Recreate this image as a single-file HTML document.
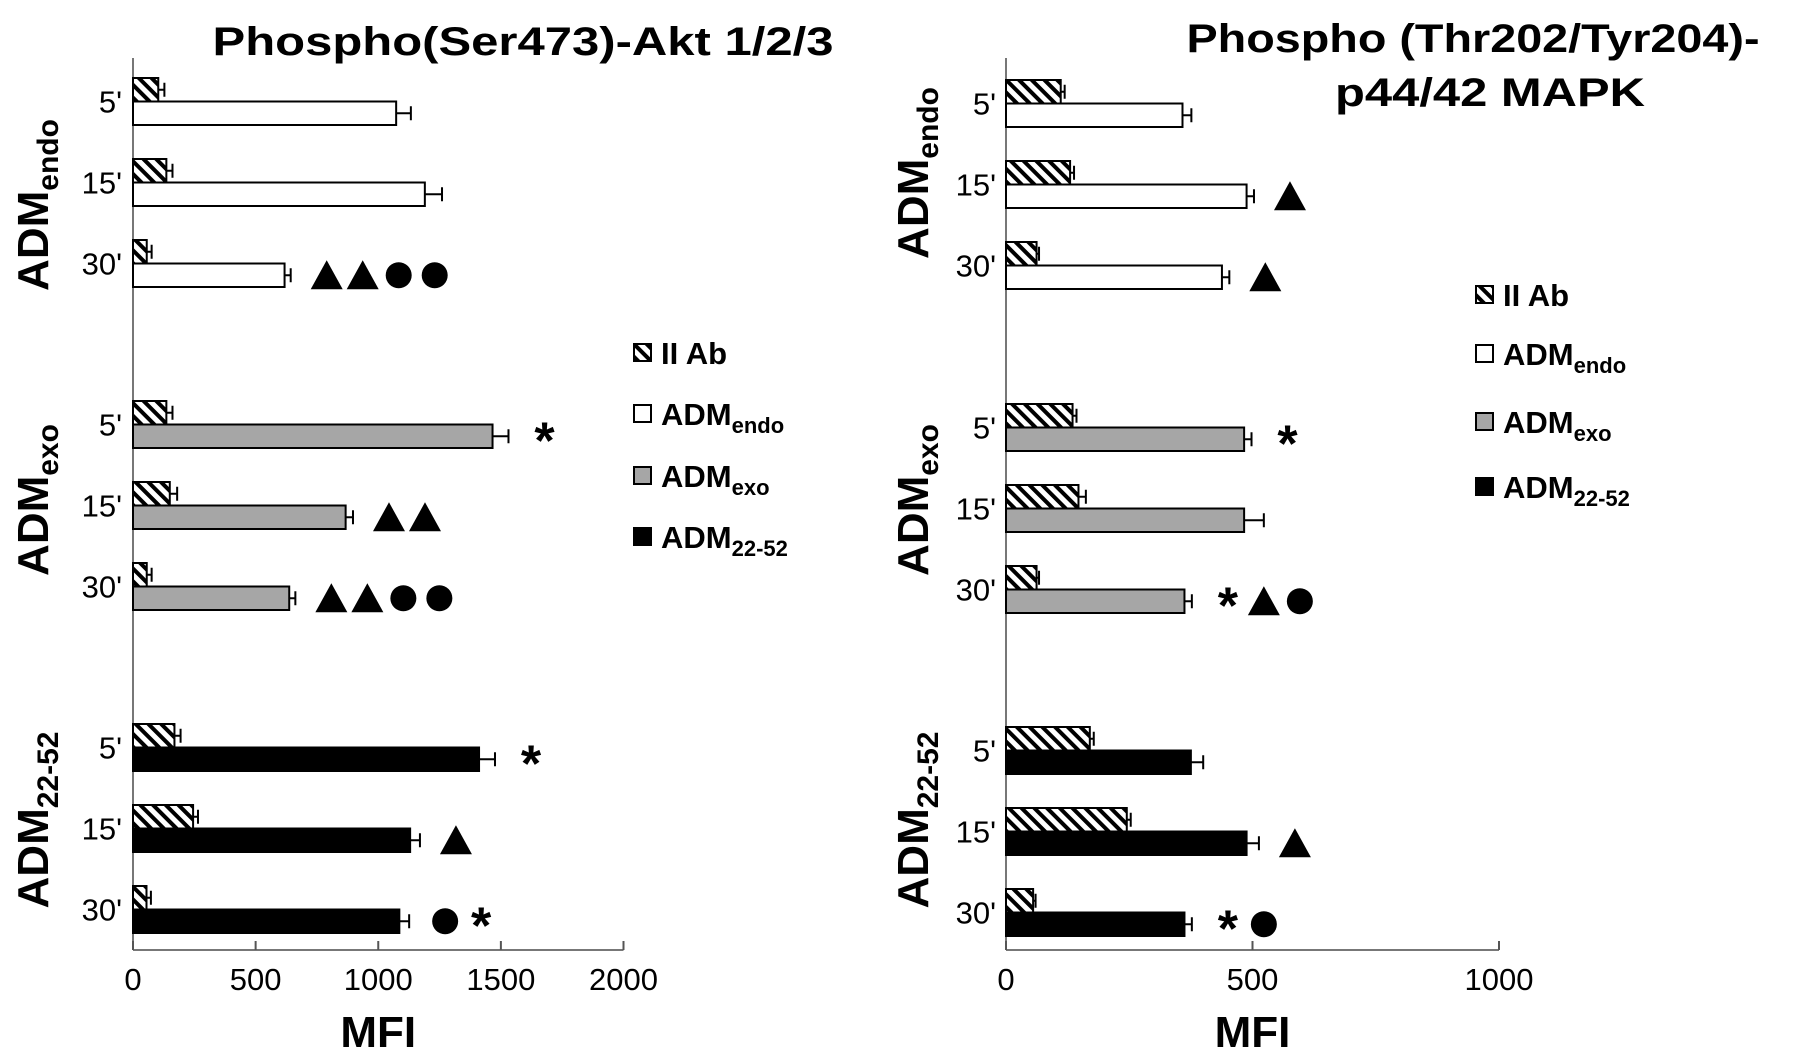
<!DOCTYPE html>
<html><head><meta charset="utf-8">
<style>
html,body{margin:0;padding:0;background:#fff;}
svg{display:block;font-family:"Liberation Sans Narrow","Liberation Sans",sans-serif;}
</style></head>
<body>
<svg id="fig" width="1795" height="1059" viewBox="0 0 1795 1059">
<defs>
<pattern id="hatch" patternUnits="userSpaceOnUse" width="9" height="9" patternTransform="rotate(45)">
<rect width="9" height="9" fill="#fff"/><rect x="0" y="0" width="9" height="4" fill="#000"/>
</pattern>
</defs>
<text x="523" y="55" text-anchor="middle" font-size="40" font-weight="bold" textLength="621" lengthAdjust="spacingAndGlyphs">Phospho(Ser473)-Akt 1/2/3</text>
<text x="1473" y="52" text-anchor="middle" font-size="40" font-weight="bold" textLength="573" lengthAdjust="spacingAndGlyphs">Phospho (Thr202/Tyr204)-</text>
<text x="1490" y="106" text-anchor="middle" font-size="40" font-weight="bold" textLength="310" lengthAdjust="spacingAndGlyphs">p44/42 MAPK</text>
</svg>
<script>
// ---- data ----
const timeLabels = ["5'", "15'", "30'", "5'", "15'", "30'", "5'", "15'", "30'"];
const groupNames = ["endo", "exo", "22-52"];
const groupFills = ["#ffffff", "#a6a6a6", "#000000"];
const aktAb = [103, 136, 56, 136, 150, 56, 169, 245, 55];
const aktAbErr = [25, 25, 20, 25, 30, 20, 25, 20, 18];
const aktVal = [1073, 1190, 618, 1466, 867, 637, 1411, 1130, 1086];
const aktErr = [60, 70, 25, 65, 30, 25, 65, 40, 40];
const aktMarks = ["", "", "TTCC", "*", "TT", "TTCC", "*", "T", "C*"];
const mapkAb = [111, 130, 62, 135, 147, 62, 170, 245, 55];
const mapkAbErr = [8, 8, 5, 8, 15, 5, 8, 8, 5];
const mapkVal = [358, 488, 438, 483, 483, 362, 375, 488, 362];
const mapkErr = [18, 15, 15, 15, 40, 15, 25, 25, 15];
const mapkMarks = ["", "T", "T", "*", "", "*TC", "", "T", "*C"];
const aktTicks = [0, 500, 1000, 1500, 2000];
const mapkTicks = [0, 500, 1000];

const NS = "http://www.w3.org/2000/svg";
const svg = document.getElementById("fig");
function mk(tag, attrs, parent) {
  const e = document.createElementNS(NS, tag);
  for (const k in attrs) e.setAttribute(k, attrs[k]);
  (parent || svg).appendChild(e);
  return e;
}
const BH = 23.5;

function chart(cfg) {
  const g = mk("g", {});
  
  
  const sx = v => cfg.x0 + (v - cfg.min) / (cfg.max - cfg.min) * (cfg.x1 - cfg.x0);
  const ya = mk("line", {x1: cfg.x0, y1: cfg.top, x2: cfg.x0, y2: cfg.bottom, stroke: "#777", "stroke-width": 2}, g);
  
  
  const xa = mk("line", {x1: cfg.x0, y1: cfg.bottom, x2: cfg.x1, y2: cfg.bottom, stroke: "#777", "stroke-width": 2}, g);
  
  
  cfg.ticks.forEach(t => {
    const tl = mk("line", {x1: sx(t), y1: cfg.bottom, x2: sx(t), y2: cfg.bottom - 9, stroke: "#555", "stroke-width": 2}, g);
    
    
    const tx = mk("text", {x: sx(t), y: 990, "text-anchor": "middle", "font-size": 31}, g);
    tx.textContent = t;
    
    
  });
  const xt = mk("text", {x: (cfg.x0 + cfg.x1) / 2, y: 1047, "text-anchor": "middle", "font-size": 44, "font-weight": "bold"}, g);
  xt.textContent = "MFI";
  
  
  for (let i = 0; i < cfg.val.length; i++) {
    const y = cfg.rows[i];
    const gi = Math.floor(i / 3);
    const hb = mk("rect", {x: sx(0), y: y, width: sx(cfg.ab[i]) - sx(0), height: BH, fill: "url(#hatch)", stroke: "#000", "stroke-width": 2}, g);
    
    
    const mb = mk("rect", {x: sx(0), y: y + BH, width: sx(cfg.val[i]) - sx(0), height: BH, fill: groupFills[gi], stroke: "#000", "stroke-width": 2}, g);
    
    
    [[cfg.ab[i], cfg.abErr[i], y], [cfg.val[i], cfg.err[i], y + BH]].forEach(([v, e, yy]) => {
      const cy = yy + BH / 2;
      const el = mk("path", {d: `M${sx(v)},${cy}H${sx(v + e)}M${sx(v + e)},${cy - 7}V${cy + 7}`, stroke: "#000", "stroke-width": 2, fill: "none"}, g);
      
      
    });
    const lb = mk("text", {x: cfg.labX, y: y + BH + 11, "text-anchor": "end", "font-size": 31}, g);
    lb.textContent = timeLabels[i];
    
    
    let mx = sx(cfg.val[i] + cfg.err[i]) + 36;
    const my = y + BH * 1.5;
    for (const c of cfg.marks[i]) {
      let m;
      if (c === "T") {
        m = mk("path", {d: `M${mx - 16},${my + 14}L${mx},${my - 15}L${mx + 16},${my + 14}Z`, fill: "#000"}, g);
        
      } else if (c === "C") {
        m = mk("circle", {cx: mx, cy: my, r: 13, fill: "#000"}, g);
        
      } else {
        m = mk("text", {x: mx, y: my + 22, "text-anchor": "middle", "font-size": 52, "font-weight": "bold", "font-family": "Liberation Sans, sans-serif"}, g);
        m.textContent = "*";
        
      }
      
      mx += 36;
    }
  }
  const gsub = ["endo", "exo", "22-52"];
  cfg.groupY.forEach((gy, k) => {
    const t = mk("text", {transform: `translate(${cfg.gx},${gy}) rotate(-90)`, "text-anchor": "middle", "font-size": 44, "font-weight": "bold", "font-family": "Liberation Sans, sans-serif"}, g);
    t.innerHTML = `ADM<tspan font-size="30" dy="10">${gsub[k]}</tspan>`;
    
    
  });
  const lnames = ["II Ab", "ADM", "ADM", "ADM"];
  const lsubs = ["", "endo", "exo", "22-52"];
  const lfills = ["url(#hatch)", "#fff", "#a6a6a6", "#000"];
  cfg.legY.forEach((ly, k) => {
    const lg = mk("g", {}, g);
    
    
    mk("rect", {x: cfg.legX, y: ly - 9, width: 17, height: 17, fill: lfills[k], stroke: "#000", "stroke-width": 2}, lg);
    const t = mk("text", {x: cfg.legX + 27, y: ly + 11, "font-size": 31, "font-weight": "bold", "font-family": "Liberation Sans, sans-serif"}, lg);
    t.innerHTML = lnames[k] + (lsubs[k] ? `<tspan font-size="22" dy="8">${lsubs[k]}</tspan>` : "");
  });
}

chart({name: "akt-chart", x0: 133, x1: 623.5, min: 0, max: 2000, top: 58, bottom: 950, ticks: aktTicks,
  ab: aktAb, abErr: aktAbErr, val: aktVal, err: aktErr, marks: aktMarks,
  rows: [78, 159, 240, 401, 482, 563, 724, 805, 886], labX: 122, gx: 48, groupY: [205, 500, 820],
  legX: 634, legY: [353, 414, 476, 537]});
chart({name: "mapk-chart", x0: 1006, x1: 1499, min: 0, max: 1000, top: 58, bottom: 950, ticks: mapkTicks,
  ab: mapkAb, abErr: mapkAbErr, val: mapkVal, err: mapkErr, marks: mapkMarks,
  rows: [80, 161, 242, 404, 485, 566, 727, 808, 889], labX: 996, gx: 928, groupY: [173, 500, 820],
  legX: 1476, legY: [295, 354, 422, 487]});
</script>
</body></html>
